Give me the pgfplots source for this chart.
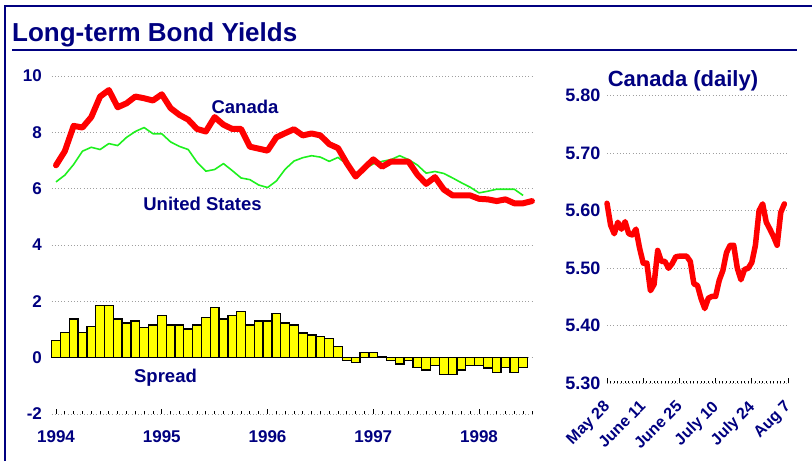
\documentclass[border=0pt]{standalone}
\usepackage{fontspec}
\setmainfont{Liberation Sans}
\usepackage{pgfplots}
\usepackage{pgfplotstable}
\pgfplotsset{compat=1.18}
\definecolor{navy}{RGB}{0,0,128}
\definecolor{cred}{RGB}{255,0,0}
\definecolor{cgreen}{RGB}{30,240,30}
\definecolor{cyellow}{RGB}{255,255,0}

\pgfplotstableread{
i v
0 6.83
1 7.33
2 8.23
3 8.17
4 8.54
5 9.27
6 9.50
7 8.89
8 9.03
9 9.27
10 9.21
11 9.13
12 9.35
13 8.86
14 8.62
15 8.45
16 8.12
17 8.03
18 8.54
19 8.27
20 8.12
21 8.12
22 7.49
23 7.42
24 7.35
25 7.82
26 7.97
27 8.11
28 7.89
29 7.96
30 7.89
31 7.58
32 7.44
33 6.90
34 6.43
35 6.74
36 7.04
37 6.78
38 6.96
39 6.96
40 6.96
41 6.50
42 6.17
43 6.41
44 5.97
45 5.76
46 5.76
47 5.76
48 5.64
49 5.62
50 5.56
51 5.62
52 5.48
53 5.48
54 5.56
}\canada

\pgfplotstableread{
i v
0 6.24
1 6.48
2 6.86
3 7.33
4 7.47
5 7.39
6 7.60
7 7.53
8 7.82
9 8.03
10 8.17
11 7.95
12 7.95
13 7.66
14 7.50
15 7.39
16 6.94
17 6.62
18 6.68
19 6.89
20 6.64
21 6.38
22 6.32
23 6.13
24 6.04
25 6.27
26 6.69
27 6.98
28 7.10
29 7.17
30 7.12
31 6.97
32 7.11
33 6.86
34 6.55
35 6.70
36 6.88
37 6.97
38 7.03
39 7.17
40 7.03
41 6.84
42 6.55
43 6.61
44 6.54
45 6.38
46 6.21
47 6.05
48 5.85
49 5.91
50 5.98
51 5.98
52 5.98
53 5.76
}\us

\pgfplotstableread{
i v
0 0.62
1 0.90
2 1.37
3 0.89
4 1.10
5 1.84
6 1.84
7 1.37
8 1.23
9 1.30
10 1.08
11 1.16
12 1.50
13 1.16
14 1.16
15 1.02
16 1.16
17 1.42
18 1.77
19 1.37
20 1.50
21 1.63
22 1.16
23 1.30
24 1.30
25 1.56
26 1.23
27 1.16
28 0.88
29 0.81
30 0.74
31 0.67
32 0.39
33 -0.10
34 -0.16
35 0.18
36 0.18
37 0.03
38 -0.10
39 -0.23
40 -0.10
41 -0.36
42 -0.44
43 -0.29
44 -0.60
45 -0.60
46 -0.44
47 -0.29
48 -0.29
49 -0.37
50 -0.53
51 -0.36
52 -0.53
53 -0.36
}\spread

\pgfplotstableread{
d v
0 5.613
1 5.575
2 5.560
3 5.580
4 5.568
5 5.581
6 5.560
7 5.558
8 5.568
9 5.535
10 5.509
11 5.509
12 5.461
13 5.472
14 5.531
15 5.512
16 5.512
17 5.500
18 5.508
19 5.520
20 5.521
21 5.521
22 5.521
23 5.512
24 5.473
25 5.470
26 5.447
27 5.430
28 5.448
29 5.451
30 5.451
31 5.479
32 5.496
33 5.527
34 5.540
35 5.540
36 5.500
37 5.480
38 5.498
39 5.500
40 5.510
41 5.540
42 5.600
43 5.612
44 5.580
45 5.568
46 5.555
47 5.540
48 5.597
49 5.612
}\daily

\begin{document}
\begin{tikzpicture}
\path[use as bounding box] (0pt,0pt) rectangle (812pt,461pt);
% frame and title
\draw[navy, line width=2pt] (5pt,0pt) -- (5pt,455pt) -- (812pt,455pt);
\node[anchor=base west, inner sep=0pt, text=navy, font=\bfseries\fontsize{26}{26}\selectfont] at (12pt,419.5pt) {Long-term Bond Yields};
\draw[navy, line width=2pt] (12pt,411pt) -- (797pt,411pt);

\pgfplotsset{
  every axis/.append style={
    scale only axis,
    axis line style={draw=none},
    ymajorgrids,
    grid style={gray!75, line width=0.9pt, dash pattern=on 1pt off 2.2pt},
    tick align=inside,
    xtick pos=bottom,
    ytick style={draw=none},
    x tick style={black, line width=0.8pt},
    major tick length=5pt,
    minor tick length=2.5pt,
    clip=false,
  }
}

\begin{axis}[
  at={(51.6pt,47pt)}, anchor=south west,
  width=481.2pt, height=338pt,
  xmin=-0.5, xmax=54.1, ymin=-2, ymax=10,
  xtick={0,12,24,36,48},
  xticklabels={1994,1995,1996,1997,1998},
  minor xtick={0,...,54},
  ytick={-2,0,2,4,6,8,10},
  yticklabels={-2,0,2,4,6,8,10},
  yticklabel style={anchor=east, inner sep=0pt, xshift=-9.5pt, text=navy, font=\bfseries\fontsize{17}{17}\selectfont},
  xticklabel style={anchor=north, inner sep=0pt, yshift=-16pt, text=navy, font=\bfseries\fontsize{17}{17}\selectfont},
]
\addplot[ybar, bar width=1, bar shift=0pt, draw=black, line width=1.3pt, fill=cyellow] table[x=i,y=v] {\spread};
\addplot[cgreen, line width=1.6pt, line join=round] table[x=i,y=v] {\us};
\addplot[cred, line width=6pt, line join=round, line cap=round] table[x=i,y=v] {\canada};
\end{axis}

\node[text=navy, font=\bfseries\fontsize{18.5}{18.5}\selectfont] at (245pt,354pt) {Canada};
\node[text=navy, font=\bfseries\fontsize{18.5}{18.5}\selectfont] at (202.5pt,257pt) {United States};
\node[text=navy, font=\bfseries\fontsize{18.5}{18.5}\selectfont] at (165.5pt,83pt) {Spread};

\begin{axis}[
  at={(607pt,77.7pt)}, anchor=south west,
  width=181pt, height=287.6pt,
  xmin=0, xmax=50, ymin=5.3, ymax=5.8,
  xtick={0,10,20,30,40,50},
  xticklabels={May 28,June 11,June 25,July 10,July 24,Aug 7},
  minor xtick={0,...,50},
  ytick={5.3,5.4,5.5,5.6,5.7,5.8},
  yticklabels={5.30,5.40,5.50,5.60,5.70,5.80},
  yticklabel style={anchor=east, inner sep=0pt, xshift=-6.3pt, text=navy, font=\bfseries\fontsize{18}{18}\selectfont},
  xticklabel style={anchor=north east, inner sep=0pt, xshift=-4.5pt, yshift=-16pt, rotate=45, text=navy, font=\bfseries\fontsize{16}{16}\selectfont},
]
\addplot[cred, line width=5.5pt, line join=round, line cap=round] table[x=d,y=v] {\daily};
\end{axis}
\node[text=navy, font=\bfseries\fontsize{22}{22}\selectfont] at (683pt,380pt) {Canada (daily)};
\end{tikzpicture}
\end{document}
